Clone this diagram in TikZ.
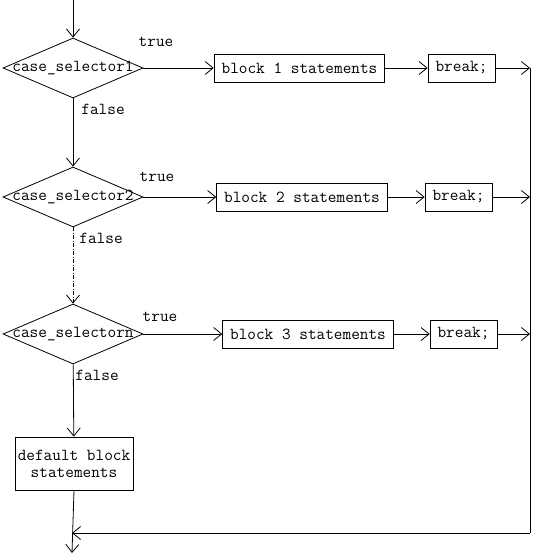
\documentclass[tikz,border=0pt]{standalone}
\usetikzlibrary{arrows.meta}
\usetikzlibrary{shapes.geometric}

\begin{document}
\begin{tikzpicture}[x=1bp, y=-1bp, line width=.8bp, >={Straight Barb[length=8bp,width=13bp]},
 every node/.style={font=\fontsize{16.8bp}{17bp}\ttfamily},
 dec/.style={draw, diamond, minimum width=140bp, minimum height=60bp, inner sep=0},
 blk/.style={draw, minimum height=28bp, inner xsep=7.5bp, inner ysep=0},
 lbl/.style={inner sep=0}]
\useasboundingbox (0,0) rectangle (534,560);
\foreach \i/\y/\bx/\kx/\tx/\ty/\fx/\fy/\n in {1/68/299.5/461.5/156/42/81/109/1, 2/197/302/458.5/157/177/79/238/2, 3/334/308/463.5/160/317/75/375/n} {
 \node[dec] (d\i) at (73,\y) {\makebox[0pt]{case\_selector\n}};
 \node[blk] (b\i) at (\bx,\y) {block \i\ statements};
 \node[blk] (k\i) at (\kx,\y) {break;};
 \coordinate (r\i) at (530,\y);
 \node[lbl] (t\i) at (\tx,\ty) {true};
 \node[lbl, anchor=west] (f\i) at (\fx,\fy) {false};
}
\node[draw, minimum width=118bp, minimum height=53bp, inner sep=0, align=center] (def) at (74,463.5) {default block\\statements};
\coordinate (in) at (73,0);
\coordinate (out) at (72,553);
\coordinate (rb) at (530,533);
\coordinate (mg) at (72,533);
\draw[->] (in) -- (d1.north);
\foreach \i in {1,2,3} {
 \draw[->] (d\i.east) -- (b\i.west);
 \draw[->] (b\i) -- (k\i);
 \draw[->] (k\i) -- (r\i);
}
\draw[->] (d1) -- (d2);
\draw[->, dash pattern=on 4bp off 1.5bp on 1bp off 1.5bp] (d2) -- (d3);
\draw[->] (d3) -- (def);
\draw[->] (def.south) -- (out);
\draw (r1) -- (rb);
\draw[->] (rb) -- (mg);
\end{tikzpicture}
\end{document}
